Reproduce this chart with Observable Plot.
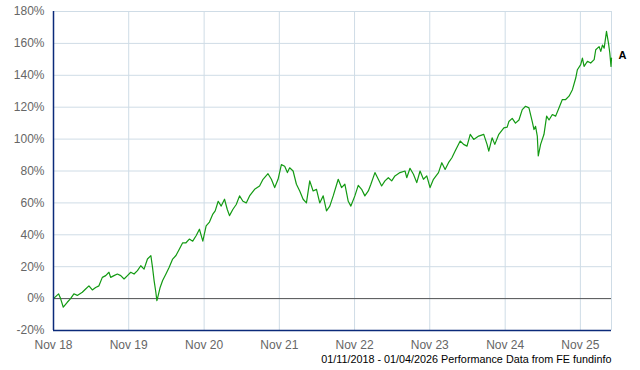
<!DOCTYPE html>
<html>
<head>
<meta charset="utf-8">
<script src="https://cdn.jsdelivr.net/npm/d3@7"></script>
<script src="https://cdn.jsdelivr.net/npm/@observablehq/plot@0.6"></script>
<style>
  html, body { margin: 0; padding: 0; background: #fff; }
</style>
</head>
<body>
<div id="chart"></div>
<script>
// Decimal years and cumulative performance (%)
const years = [
  2018.833,2018.900,2018.927,2018.963,2019.016,2019.060,2019.104,2019.149,2019.216,2019.260,
  2019.304,2019.349,2019.393,2019.437,2019.482,2019.527,2019.570,2019.593,2019.637,2019.682,
  2019.727,2019.771,2019.816,2019.860,2019.904,2019.949,2019.993,2020.037,2020.082,2020.127,
  2020.149,2020.170,2020.193,2020.207,2020.224,2020.250,2020.283,2020.327,2020.370,2020.416,
  2020.460,2020.504,2020.549,2020.593,2020.637,2020.682,2020.727,2020.771,2020.816,2020.860,
  2020.904,2020.949,2020.980,2021.020,2021.060,2021.104,2021.140,2021.170,2021.216,2021.260,
  2021.304,2021.349,2021.393,2021.437,2021.504,2021.570,2021.616,2021.682,2021.727,2021.771,
  2021.816,2021.860,2021.904,2021.940,2021.970,2022.016,2022.060,2022.104,2022.149,2022.193,
  2022.237,2022.282,2022.327,2022.370,2022.416,2022.460,2022.504,2022.549,2022.616,2022.660,
  2022.704,2022.749,2022.784,2022.837,2022.882,2022.927,2022.970,2023.016,2023.050,2023.104,
  2023.149,2023.193,2023.237,2023.282,2023.327,2023.370,2023.437,2023.504,2023.527,2023.570,
  2023.616,2023.660,2023.704,2023.749,2023.793,2023.837,2023.882,2023.949,2023.993,2024.037,
  2024.082,2024.127,2024.170,2024.237,2024.282,2024.327,2024.370,2024.416,2024.482,2024.549,
  2024.593,2024.616,2024.660,2024.696,2024.749,2024.816,2024.860,2024.882,2024.927,2024.970,
  2025.016,2025.060,2025.104,2025.149,2025.193,2025.216,2025.237,2025.260,2025.273,2025.304,
  2025.349,2025.384,2025.416,2025.460,2025.504,2025.549,2025.593,2025.637,2025.682,2025.727,
  2025.771,2025.793,2025.837,2025.860,2025.882,2025.927,2025.970,2026.016,2026.037,2026.082,
  2026.104,2026.127,2026.149,2026.180,2026.207,2026.224,2026.240,2026.247
];
const values = [
  0,3,0,-5.4,-2.3,0,3,2,4,6,
  8,5.4,7,8,13.3,14.4,16.5,13.3,14.4,15.4,
  14.4,12.3,14.4,16.5,15.4,17.5,20.6,18.5,24.8,26.9,
  19.6,11.3,4,-1.3,1.9,7,11.3,15.4,19.6,24.8,
  27,31,35,35,37.3,36,39.4,43.5,36,45.6,
  48,53,55,61,58,62.3,56,52,56,59,
  64.4,61,60,64.4,68.5,70.6,74.8,78.3,74.8,69.6,
  74.8,84,83,79,82,80,71.7,67.5,62.3,60,
  73.8,67.5,68.5,60,64.4,55,58,64.4,74.8,69.6,
  71.7,61,58,64.4,71,68.5,64.4,67.5,71.7,79,
  74.8,70.6,73.8,75.8,73.8,76.9,79,80,75.8,81.7,
  78,72.7,80,74.8,76.9,69.6,74.8,79,85.2,81,
  85.2,88.3,92.5,98.8,96.7,95.6,103,99.8,101.9,103,
  96.7,92.5,100.8,96.7,103,107,107.5,111,113,110,
  112,118.5,120.6,119.6,111,106,108,101.9,89.4,96.7,
  103,114.4,112,115.4,114.4,119.6,124.8,124.8,126.9,131,
  138.3,143.5,146.7,150.8,145.6,148.8,147.7,149.8,156,158,
  155,159,157,167.5,160,154,145.6,150.8
];
const xTickDates = ["2018-11-01","2019-11-01","2020-11-01","2021-11-01","2022-11-01","2023-11-01","2024-11-01","2025-11-01"];
const yTicks = [-20,0,20,40,60,80,100,120,140,160,180];
const seriesName = "A";
const caption = "01/11/2018 - 01/04/2026 Performance Data from FE fundinfo";
const startDate = "2018-11-01";
const endDate = "2026-04-01";

function decToDate(y) {
  const yr = Math.floor(y);
  const a = Date.UTC(yr, 0, 1), b = Date.UTC(yr + 1, 0, 1);
  return new Date(a + (y - yr) * (b - a));
}
const data = years.map((y, i) => ({date: decToDate(y), value: values[i]}));
const last = data[data.length - 1];
const xTicks = xTickDates.map(d => new Date(d));
const x0 = new Date(startDate), x1 = new Date(endDate);

const gridColor = "#cfdce6";
const navy = "#0b2a7a";

const chart = Plot.plot({
  width: 640,
  height: 370,
  marginLeft: 53,
  marginRight: 29,
  marginTop: 11,
  marginBottom: 40,
  style: {fontFamily: "'Liberation Sans', Arial, sans-serif", fontSize: "12px", background: "#fff"},
  x: {type: "utc", domain: [x0, x1]},
  y: {domain: [-20, 180]},
  marks: [
    Plot.gridY(yTicks, {stroke: gridColor, strokeOpacity: 1, strokeWidth: 1}),
    Plot.gridX(xTicks, {stroke: gridColor, strokeOpacity: 1, strokeWidth: 1}),
    Plot.ruleX([x1], {stroke: gridColor, strokeWidth: 1}),
    Plot.ruleY([0], {stroke: "#555", strokeWidth: 1}),
    Plot.line(data, {x: "date", y: "value", stroke: "#139a13", strokeWidth: 1.2}),
    Plot.ruleX([x0], {stroke: navy, strokeWidth: 1.5}),
    Plot.ruleY([-20], {stroke: navy, strokeWidth: 1.5}),
    Plot.axisY(yTicks, {tickSize: 0, tickPadding: 9, tickFormat: d => d + "%", fill: "#666", fontSize: 12, label: null}),
    Plot.axisX(xTicks, {tickSize: 0, tickPadding: 10, tickFormat: d3.utcFormat("%b %y"), fill: "#666", fontSize: 12, label: null}),
    Plot.text([last], {x: "date", y: "value", text: () => seriesName, dx: 7, dy: -3, textAnchor: "start", fontWeight: "bold", fontSize: 11, fill: "#000"}),
    Plot.text([caption], {frameAnchor: "bottom-right", text: d => d, dy: 32, dx: 0, fontSize: 10.8, fill: "#000", textAnchor: "end"})
  ]
});
document.getElementById("chart").appendChild(chart);
</script>
</body>
</html>
